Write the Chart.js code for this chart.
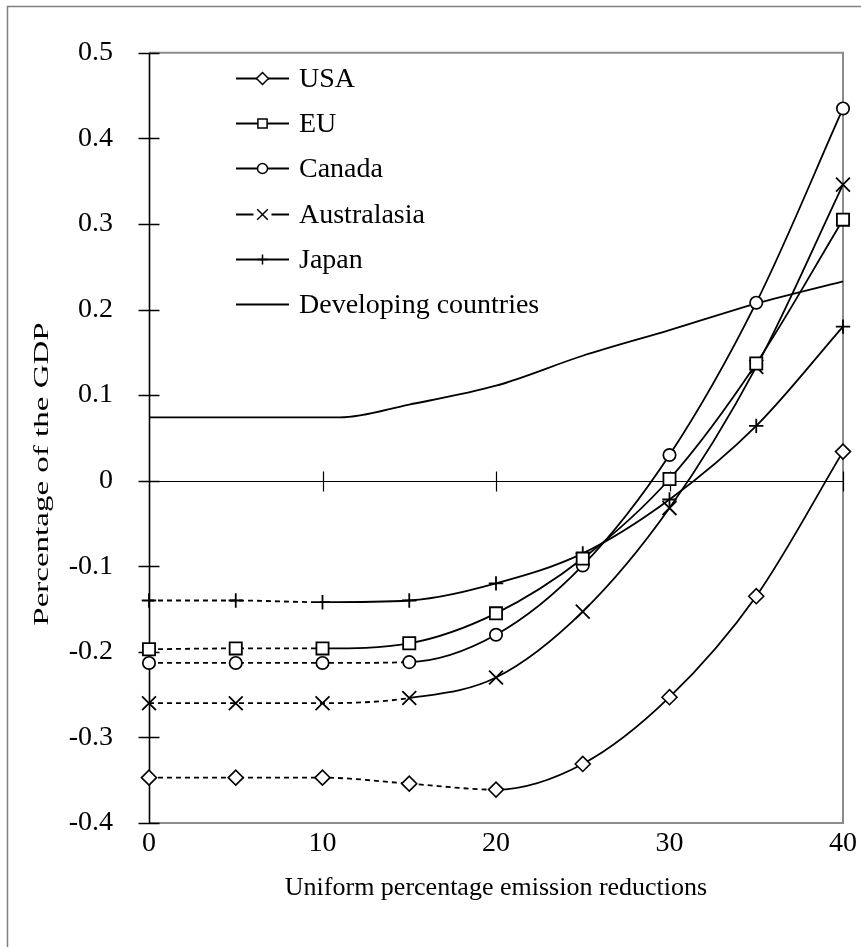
<!DOCTYPE html>
<html>
<head>
<meta charset="utf-8">
<script src="https://cdn.jsdelivr.net/npm/chart.js@4.4.1/dist/chart.umd.min.js"></script>
<style>
  html, body { margin: 0; padding: 0; background: #ffffff; }
  #wrap { width: 861px; height: 947px; position: relative; }
</style>
</head>
<body>
<div id="wrap"><canvas id="c" width="861" height="947"></canvas></div>
<script>
// ---- data ----
const reductions = [0, 5, 10, 15, 20, 25, 30, 35, 40];
const usa         = [-0.347, -0.347, -0.347, -0.354, -0.361, -0.331, -0.253, -0.135, 0.034];
const eu          = [-0.197, -0.196, -0.196, -0.190, -0.155, -0.091, 0.002, 0.137, 0.305];
const canada      = [-0.213, -0.213, -0.213, -0.212, -0.180, -0.099, 0.030, 0.208, 0.435];
const australasia = [-0.260, -0.260, -0.260, -0.254, -0.230, -0.153, -0.032, 0.133, 0.346];
const japan       = [-0.140, -0.140, -0.142, -0.140, -0.120, -0.085, -0.022, 0.064, 0.180];
const developingX = [0, 5, 10, 11, 15, 20, 25, 30, 35, 40];
const developing  = [0.074, 0.074, 0.074, 0.074, 0.089, 0.111, 0.146, 0.176, 0.207, 0.233];
const seriesNames = ['USA', 'EU', 'Canada', 'Australasia', 'Japan', 'Developing countries'];
const yTicks = [-0.4, -0.3, -0.2, -0.1, 0, 0.1, 0.2, 0.3, 0.4, 0.5];
const xTicks = [0, 10, 20, 30, 40];
const xTitle = 'Uniform percentage emission reductions';
const yTitle = 'Percentage of the GDP';
// dotted part of each series: segments that start before this x value
const dottedBefore = [20, 10, 15, 15, 10, 0];

const FONT = '"Liberation Serif", "Times New Roman", serif';

function pts(xs, ys) { return xs.map((x, i) => ({ x: x, y: ys[i] })); }

function mkSet(i, values, xs, style, radius, bw) {
  return {
    label: seriesNames[i],
    data: pts(xs, values),
    borderColor: '#000000',
    backgroundColor: '#ffffff',
    borderWidth: 1.8,
    pointStyle: style,
    pointRadius: radius,
    pointBorderWidth: bw,
    pointBorderColor: '#000000',
    pointBackgroundColor: '#ffffff',
    pointHoverRadius: radius,
    cubicInterpolationMode: 'monotone',
    clip: false,
    segment: {
      borderDash: ctx => (ctx.p0.parsed.x < dottedBefore[i] ? [5, 4] : undefined)
    }
  };
}

const datasets = [
  mkSet(0, usa, reductions, 'rectRot', 7.5, 1.6),
  mkSet(1, eu, reductions, 'rect', 8.6, 1.8),
  mkSet(2, canada, reductions, 'circle', 6.2, 1.7),
  mkSet(3, australasia, reductions, 'crossRot', 9.8, 1.8),
  mkSet(4, japan, reductions, 'cross', 7.2, 1.8),
  mkSet(5, developing, developingX, 'line', 0, 0)
];

const framePlugin = {
  id: 'frame',
  beforeDraw(chart) {
    const ctx = chart.ctx;
    const a = chart.chartArea;
    ctx.save();
    ctx.fillStyle = '#ffffff';
    ctx.fillRect(0, 0, chart.width, chart.height);
    // outer frame (top and left visible)
    ctx.strokeStyle = '#7f7f7f';
    ctx.lineWidth = 1.5;
    ctx.beginPath();
    ctx.moveTo(7.5, chart.height + 2);
    ctx.lineTo(7.5, 6.5);
    ctx.lineTo(chart.width + 2, 6.5);
    ctx.stroke();
    // plot box: top, right, bottom in grey
    ctx.strokeStyle = '#8c8c8c';
    ctx.lineWidth = 2;
    ctx.beginPath();
    ctx.moveTo(a.left, a.top);
    ctx.lineTo(a.right, a.top);
    ctx.lineTo(a.right, a.bottom);
    ctx.lineTo(a.left, a.bottom);
    ctx.stroke();
    ctx.restore();
  },
  beforeDatasetsDraw(chart) {
    const ctx = chart.ctx;
    const a = chart.chartArea;
    const xs = chart.scales.x, ys = chart.scales.y;
    ctx.save();
    ctx.strokeStyle = '#000000';
    ctx.lineWidth = 1.6;
    // y axis line with crossing ticks
    const x0 = Math.round(xs.getPixelForValue(0)) + 0.5;
    ctx.beginPath();
    ctx.moveTo(x0, a.top);
    ctx.lineTo(x0, a.bottom);
    yTicks.forEach(v => {
      const py = Math.round(ys.getPixelForValue(v)) + 0.5;
      ctx.moveTo(x0 - 11, py);
      ctx.lineTo(x0 + 10, py);
    });
    ctx.stroke();
    // horizontal zero axis with crossing ticks
    ctx.lineWidth = 1.2;
    const y0 = Math.round(ys.getPixelForValue(0)) + 0.5;
    ctx.beginPath();
    ctx.moveTo(a.left, y0);
    ctx.lineTo(a.right, y0);
    xTicks.forEach(v => {
      if (v === 0) return;
      const px = Math.round(xs.getPixelForValue(v)) + 0.5;
      ctx.moveTo(px, y0 - 10);
      ctx.lineTo(px, y0 + 10);
    });
    ctx.stroke();
    ctx.restore();
  },
  afterDraw(chart) {
    const ctx = chart.ctx;
    ctx.save();
    // y title (stretched along its length as in the reference)
    ctx.fillStyle = '#000000';
    ctx.font = '22px ' + FONT;
    ctx.textAlign = 'center';
    ctx.textBaseline = 'middle';
    ctx.translate(42, 474);
    ctx.rotate(-Math.PI / 2);
    ctx.scale(1.5, 1);
    ctx.fillText(yTitle, 0, 0);
    ctx.restore();

    // legend
    ctx.save();
    const lx0 = 236, lx1 = 289, tx = 299, ly0 = 78, step = 45.2;
    ctx.font = '28px ' + FONT;
    ctx.textBaseline = 'middle';
    ctx.textAlign = 'left';
    chart.data.datasets.forEach((ds, i) => {
      const y = Math.round(ly0 + i * step) + 0.5;
      const mx = (lx0 + lx1) / 2;
      ctx.strokeStyle = '#000';
      ctx.lineWidth = 1.8;
      ctx.setLineDash([]);
      ctx.beginPath();
      if (ds.pointStyle === 'crossRot') {
        ctx.moveTo(lx0, y); ctx.lineTo(mx - 9, y);
        ctx.moveTo(mx + 9, y); ctx.lineTo(lx1, y);
      } else {
        ctx.moveTo(lx0, y); ctx.lineTo(lx1, y);
      }
      ctx.stroke();
      if (ds.pointRadius > 0) {
        ctx.save();
        ctx.fillStyle = '#ffffff';
        ctx.strokeStyle = '#000000';
        ctx.lineWidth = 1.5;
        Chart.helpers.drawPoint(ctx, {
          pointStyle: ds.pointStyle,
          radius: ds.pointStyle === 'rect' ? 6.5 : (ds.pointStyle === 'crossRot' ? 7.5 : (ds.pointStyle === 'rectRot' ? 6 : 5)),
          borderWidth: 1.5,
          rotation: 0
        }, mx, y);
        ctx.restore();
      }
      ctx.fillStyle = '#000';
      ctx.fillText(ds.label, tx, y + 1);
    });
    ctx.restore();
  }
};

new Chart(document.getElementById('c'), {
  type: 'line',
  data: { datasets: datasets },
  options: {
    responsive: false,
    animation: false,
    events: [],
    layout: { padding: { top: 45, right: 14, left: 0, bottom: 0 } },
    plugins: { legend: { display: false }, tooltip: { enabled: false } },
    scales: {
      x: {
        type: 'linear',
        min: 0, max: 40,
        afterBuildTicks: s => { s.ticks = xTicks.map(v => ({ value: v })); },
        afterFit: s => { s.height = 124; },
        grid: { display: false, drawTicks: false },
        border: { display: false },
        ticks: { color: '#000', font: { family: FONT, size: 28 }, padding: 4, maxRotation: 0, autoSkip: false },
        title: { display: true, text: xTitle, color: '#000', font: { family: FONT, size: 26 }, padding: { top: 0, bottom: 43 } }
      },
      y: {
        min: -0.4, max: 0.5,
        afterBuildTicks: s => { s.ticks = yTicks.map(v => ({ value: v })); },
        afterFit: s => { s.width = 149; },
        grid: { display: false, drawTicks: false },
        border: { display: false },
        ticks: {
          color: '#000', font: { family: FONT, size: 28 }, padding: 36,
          callback: v => (Math.abs(v) < 1e-9 ? '0' : Number(v).toFixed(1))
        }
      }
    }
  },
  plugins: [framePlugin]
});
</script>
</body>
</html>
